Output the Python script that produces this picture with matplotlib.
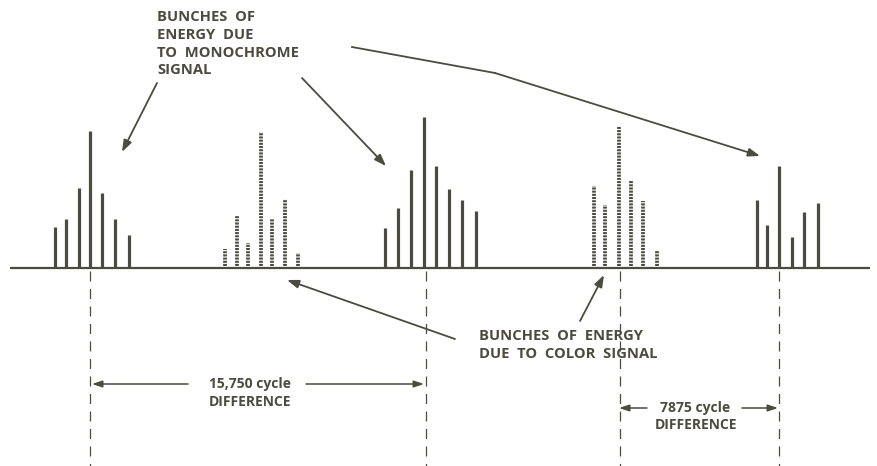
import matplotlib
matplotlib.use("Agg")
import matplotlib.pyplot as plt

# positions are in picture units (x right, y down), baseline at y = 268
baseline = 268

mono_left_x = [55, 66, 79, 90, 102, 115, 129]
mono_left_h = [41, 49, 80, 137, 75, 49, 33]
mono_mid_x = [385, 398, 411, 424, 436, 449, 462, 476]
mono_mid_h = [40, 60, 98, 151, 102, 79, 68, 57]
mono_right_x = [757, 767, 779, 792, 804, 818]
mono_right_h = [68, 43, 102, 31, 56, 65]

color_left_x = [225, 237, 248, 261, 272, 285, 298]
color_left_h = [19, 52, 25, 136, 49, 69, 15]
color_right_x = [594, 605, 619, 631, 643, 657]
color_right_h = [82, 63, 141, 88, 67, 18]

ref_lines_x = [90, 426, 620, 779]

ink = '#4b4b40'

fig = plt.figure(figsize=(8.77, 4.66), dpi=100)
ax = fig.add_axes([0, 0, 1, 1])
ax.set_xlim(0, 877)
ax.set_ylim(466, 0)
ax.axis('off')

# baseline
ax.plot([10, 870], [baseline, baseline], color=ink, lw=1.6, solid_capstyle='butt')

# monochrome bunches (solid bars)
for xs, hs in [(mono_left_x, mono_left_h), (mono_mid_x, mono_mid_h),
               (mono_right_x, mono_right_h)]:
    ax.vlines(xs, baseline, [baseline - h for h in hs], color=ink, lw=2.3)

# color bunches (dotted bars)
for xs, hs in [(color_left_x, color_left_h), (color_right_x, color_right_h)]:
    ax.vlines(xs, baseline - 2, [baseline - h for h in hs], color=ink, lw=2.7,
              linestyles=[(0, (0.55, 0.3))])

# dashed reference lines
for x in ref_lines_x:
    ax.plot([x, x], [baseline + 3, 466], color=ink, lw=0.9,
            dashes=(8, 6))

font = dict(family='Open Sans', fontweight='bold', color=ink, fontsize=10)
label_font = dict(font, fontsize=10.6)
arrow = dict(arrowstyle='-|>,head_length=0.7,head_width=0.25', color=ink,
             lw=1.3, shrinkA=0, shrinkB=0)

# top label
for i, line in enumerate(["BUNCHES  OF", "ENERGY  DUE", "TO  MONOCHROME", "SIGNAL"]):
    ax.text(157, 17 + i * 17.8, line, ha='left', va='center', **label_font)

ax.annotate('', xy=(122, 152), xytext=(157, 83), arrowprops=arrow)
ax.annotate('', xy=(386, 166), xytext=(302, 78), arrowprops=arrow)
ax.plot([352, 495], [47, 73], color=ink, lw=1.3)
ax.annotate('', xy=(760, 156), xytext=(495, 73), arrowprops=arrow)

# color label
ax.text(479, 336, "BUNCHES  OF  ENERGY", ha='left', va='center', **label_font)
ax.text(479, 354, "DUE  TO  COLOR  SIGNAL", ha='left', va='center', **label_font)
ax.annotate('', xy=(604, 275), xytext=(580, 321), arrowprops=arrow)
ax.annotate('', xy=(287, 280), xytext=(455, 339), arrowprops=arrow)

# dimension arrows
dim = dict(arrowstyle='-|>,head_length=0.6,head_width=0.2', color=ink,
           lw=1.1, shrinkA=0, shrinkB=0)
ax.annotate('', xy=(92, 384), xytext=(188, 384), arrowprops=dim)
ax.annotate('', xy=(424, 384), xytext=(306, 384), arrowprops=dim)
ax.text(250, 384, "15,750 cycle", ha='center', va='center', **font)
ax.text(250, 402, "DIFFERENCE", ha='center', va='center', **font)

ax.annotate('', xy=(619, 408), xytext=(647, 408), arrowprops=dim)
ax.annotate('', xy=(778, 408), xytext=(742, 408), arrowprops=dim)
ax.text(695, 408, "7875 cycle", ha='center', va='center', **font)
ax.text(696, 425, "DIFFERENCE", ha='center', va='center', **font)

fig.savefig("out.png", dpi=100, facecolor='white')
